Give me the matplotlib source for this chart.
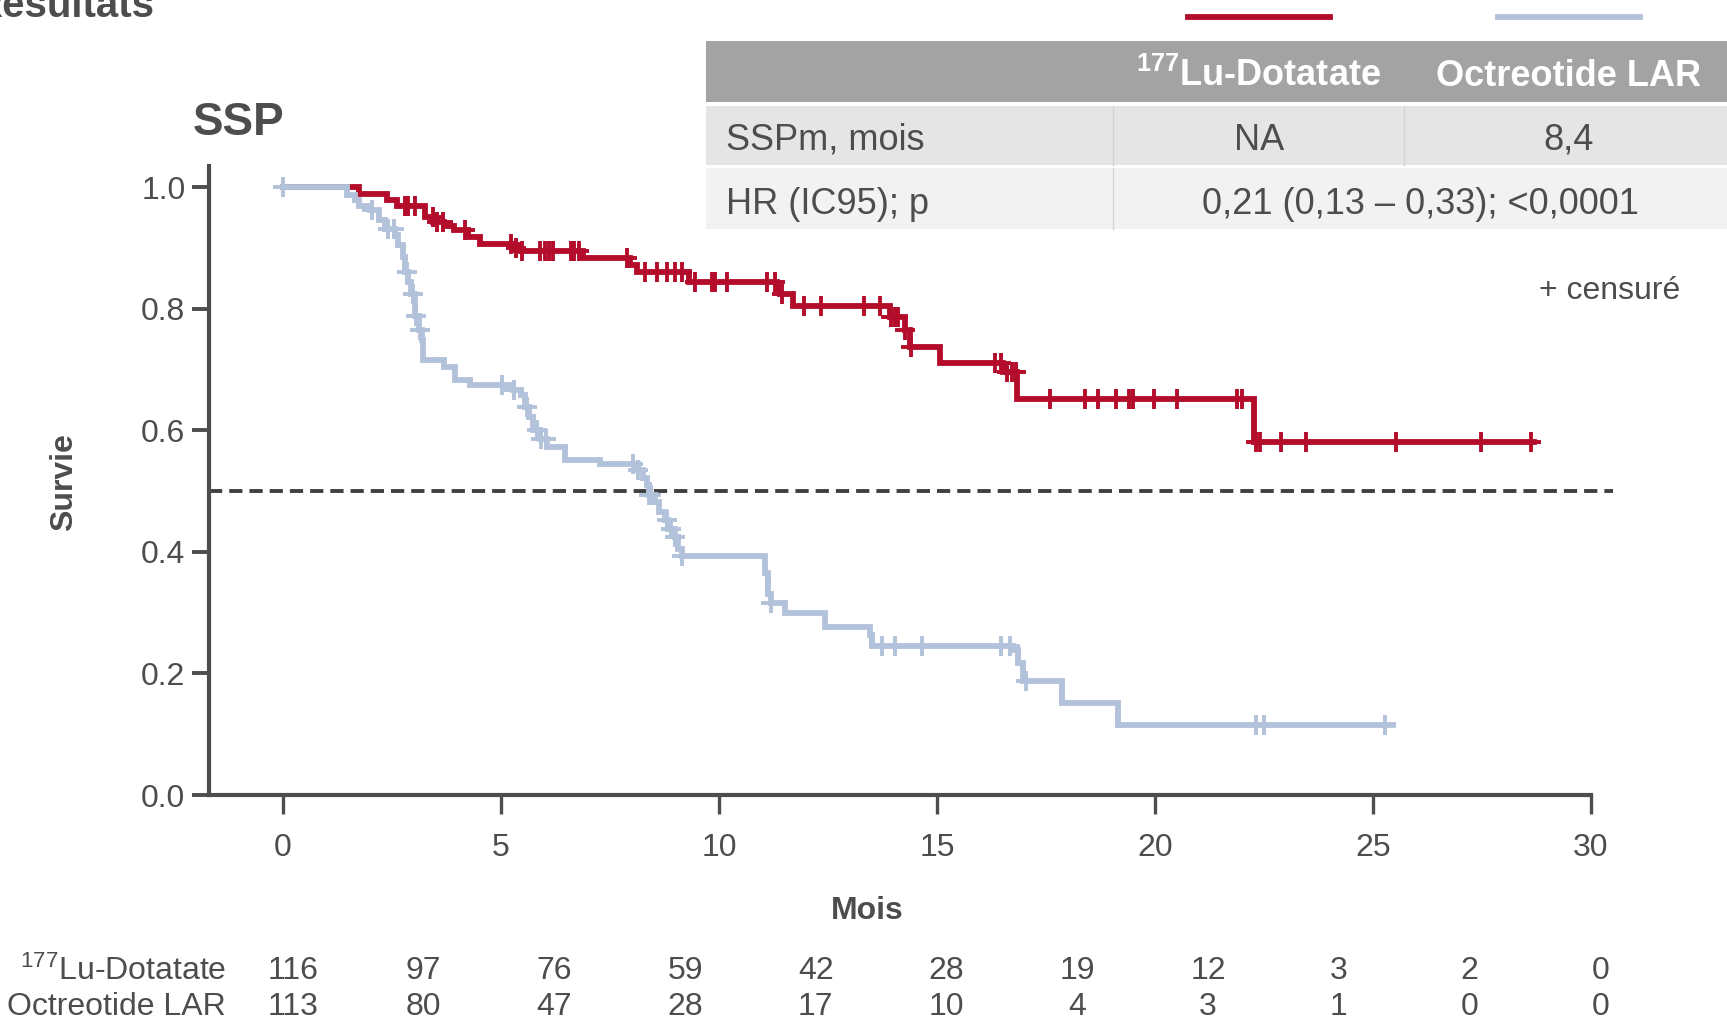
import numpy as np
import matplotlib
matplotlib.use("Agg")
import matplotlib.pyplot as plt
from matplotlib.patches import Rectangle
from matplotlib.lines import Line2D
from matplotlib.transforms import blended_transform_factory

plt.rcParams['font.family'] = ['Liberation Sans', 'DejaVu Sans']
plt.rcParams['mathtext.fontset'] = 'custom'
plt.rcParams['mathtext.rm'] = 'Liberation Sans'
plt.rcParams['mathtext.bf'] = 'Liberation Sans:bold'

W, H = 1727, 1022
GREY = '#4d4d4d'
RED = '#b30d2b'
BLUE = '#b3c2db'

# -------- KM data --------
lu_times = [0, 1.73, 2.38, 2.61, 3.26, 3.45, 3.68, 3.91, 4.25, 4.52, 5.32, 5.45,
            6.89, 7.95, 8.11, 9.30, 11.33, 11.40, 11.70, 13.92, 14.27, 14.38,
            15.07, 16.52, 16.83, 22.28]
lu_surv = [1.0, 0.989, 0.979, 0.969, 0.951, 0.943, 0.937, 0.929, 0.918, 0.906, 0.900, 0.895,
           0.883, 0.872, 0.860, 0.844, 0.835, 0.825, 0.804, 0.787, 0.765, 0.737,
           0.711, 0.696, 0.652, 0.581]
lu_end = 28.7
lu_cens = [2.80, 2.87, 3.03, 3.44, 3.52, 3.67, 4.17, 5.23, 5.35, 5.48, 5.89, 6.0, 6.1, 6.19,
           6.6, 6.67, 6.78, 7.88, 8.30, 8.57, 8.80, 8.99, 9.14, 9.45, 9.83, 9.91, 10.18,
           11.09, 11.28, 11.45, 11.95, 12.33, 13.33, 13.69, 13.95, 14.04, 14.11, 14.27,
           14.40, 16.33, 16.48, 16.6, 16.71, 16.82, 17.59, 18.39, 18.70, 19.10, 19.40,
           19.50, 19.97, 20.51, 21.88, 22.0, 22.33, 22.41, 22.9, 23.47, 25.53, 27.49, 28.62]

oct_times = [0, 1.46, 1.65, 1.75, 2.00, 2.19, 2.34, 2.57, 2.64, 2.75, 2.80, 2.87, 2.93,
             3.03, 3.11, 3.18, 3.22, 3.68, 3.94, 4.29, 5.28, 5.45, 5.55, 5.65, 5.74, 5.90,
             6.05, 6.47, 7.27, 8.15, 8.26, 8.34, 8.40, 8.53, 8.62, 8.76, 8.82, 8.99, 9.07,
             9.14, 11.06, 11.13, 11.20, 11.51, 12.43, 13.46, 13.50, 16.75, 16.85, 16.98,
             17.86, 19.16]
oct_surv = [1.0, 0.988, 0.979, 0.970, 0.962, 0.946, 0.932, 0.921, 0.905, 0.885, 0.861, 0.844, 0.825,
            0.789, 0.765, 0.748, 0.715, 0.704, 0.683, 0.674, 0.666, 0.658, 0.638, 0.622, 0.600, 0.586,
            0.573, 0.551, 0.545, 0.535, 0.521, 0.510, 0.493, 0.482, 0.466, 0.452, 0.437, 0.425, 0.405,
            0.393, 0.365, 0.331, 0.316, 0.299, 0.277, 0.263, 0.245, 0.238, 0.217, 0.188,
            0.152, 0.116]
oct_end = 25.47
oct_cens = [0.0, 2.03, 2.40, 2.55, 2.84, 2.98, 3.05, 3.13, 5.03, 5.30, 5.60, 5.82, 5.92, 6.03,
            8.03, 8.15, 8.40, 8.45, 8.80, 8.90, 9.0, 9.14, 11.2, 13.73, 14.03, 14.65,
            16.48, 16.67, 17.05, 22.33, 22.5, 25.28]

# -------- risk table --------
risk_months = [0, 3, 6, 9, 12, 15, 18, 21, 24, 27, 30]
lu_risk = [116, 97, 76, 59, 42, 28, 19, 12, 3, 2, 0]
oct_risk = [113, 80, 47, 28, 17, 10, 4, 3, 1, 0, 0]

# -------- summary table --------
tab_cols = [r'$\mathbf{^{177}}$Lu-Dotatate', 'Octreotide LAR']
tab_rows = ['SSPm, mois', 'HR (IC95); p']
median_vals = ['NA', '8,4']
hr_text = '0,21 (0,13 – 0,33); <0,0001'


def fx(px):
    return px / W


def fy(py):
    return 1 - py / H


def km(ax, times, surv, end, cens, color, z):
    t = np.array(times + [end])
    s = np.array(surv + [surv[-1]])
    ax.step(t, s, where='post', color=color, lw=4.2, zorder=z, solid_joinstyle='miter')
    idx = np.searchsorted(np.array(times), np.array(cens), side='right') - 1
    ax.plot(cens, np.array(surv)[idx], ls='none', marker='+', ms=14, mew=2.8,
            color=color, zorder=z)


fig = plt.figure(figsize=(W / 100, H / 100), dpi=100)
ax = fig.add_axes([fx(209), fy(795), fx(1617) - fx(209), fy(166) - fy(795)])
ax.patch.set_visible(False)

XMIN, XMAX = -1.7, 30.6
ax.set_xlim(XMIN, XMAX)
ax.set_ylim(0, 1.035)

ax.hlines(0.5, XMIN, 30.5, colors='#404040', lw=2.8, linestyles=(0, (3.4, 1.8)), zorder=1)
km(ax, lu_times, lu_surv, lu_end, lu_cens, RED, 3)
km(ax, oct_times, oct_surv, oct_end, oct_cens, BLUE, 4)

for s in ['top', 'right']:
    ax.spines[s].set_visible(False)
for s in ['left', 'bottom']:
    ax.spines[s].set_linewidth(3)
    ax.spines[s].set_color(GREY)
ax.spines['bottom'].set_bounds(XMIN, 30)

ax.set_xticks(range(0, 31, 5))
ax.set_yticks([0, 0.2, 0.4, 0.6, 0.8, 1.0])
ax.set_yticklabels(['0.0', '0.2', '0.4', '0.6', '0.8', '1.0'])
ax.tick_params(axis='y', length=12, width=2.8, color=GREY, labelcolor=GREY,
               labelsize=23, pad=5)
ax.tick_params(axis='x', length=14, width=2.4, color=GREY, labelcolor=GREY,
               labelsize=23, pad=13)

# titles / labels
fig.text(fx(154), fy(17), 'Résultats', ha='right', va='baseline',
         fontsize=29, fontweight='bold', color=GREY)
fig.text(fx(193), fy(123), 'SSP', ha='left', va='center',
         fontsize=33, fontweight='bold', color=GREY)
fig.text(fx(64), fy(482), 'Survie', rotation=90, ha='center', va='center',
         fontsize=23, fontweight='bold', color=GREY)
fig.text(fx(867), fy(911), 'Mois', ha='center', va='center',
         fontsize=23, fontweight='bold', color=GREY)
fig.text(fx(1680), fy(291), '+ censuré', ha='right', va='center',
         fontsize=23, color=GREY)

# risk table
tr = blended_transform_factory(ax.transData, fig.transFigure)
for yy, lab, vals in [(971, r'$\mathrm{^{177}}$Lu-Dotatate', lu_risk),
                      (1007, 'Octreotide LAR', oct_risk)]:
    fig.text(fx(226), fy(yy), lab, ha='right', va='center', fontsize=23, color=GREY)
    for m, v in zip(risk_months, vals):
        ax.text(m + 0.22, fy(yy), str(v), transform=tr, ha='center', va='center',
                fontsize=23, color=GREY, clip_on=False)

# summary table
def box(x0, y0, x1, y1, color):
    fig.add_artist(Rectangle((fx(x0), fy(y1)), fx(x1) - fx(x0), fy(y0) - fy(y1),
                             transform=fig.transFigure, facecolor=color,
                             edgecolor='none', zorder=0))


box(706, 41, 1727, 102, '#a3a3a3')
box(706, 106, 1727, 165, '#e5e5e5')
box(706, 168, 1727, 229, '#f2f2f2')
for x0, y0, y1 in [(1113, 106, 165), (1404, 106, 165), (1113, 168, 229)]:
    fig.add_artist(Line2D([fx(x0), fx(x0)], [fy(y0), fy(y1)], transform=fig.transFigure,
                          color='#d4d4d4', lw=1))

col_x = [1259, 1569]
for cx, lab in zip(col_x, tab_cols):
    fig.text(fx(cx), fy(76), lab, ha='center', va='center', fontsize=26,
             fontweight='bold', color='white')
fig.text(fx(726), fy(140), tab_rows[0], ha='left', va='center', fontsize=26, color=GREY)
fig.text(fx(726), fy(204), tab_rows[1], ha='left', va='center', fontsize=26, color=GREY)
for cx, v in zip(col_x, median_vals):
    fig.text(fx(cx), fy(140), v, ha='center', va='center', fontsize=26, color=GREY)
fig.text(fx(1420), fy(204), hr_text, ha='center', va='center', fontsize=26, color=GREY)

# legend lines over the table columns
for cx, c in zip(col_x, [RED, BLUE]):
    fig.add_artist(Line2D([fx(cx - 71), fx(cx + 71)], [fy(17), fy(17)],
                          transform=fig.transFigure, color=c, lw=4.2))

fig.savefig('out.png', dpi=100)
